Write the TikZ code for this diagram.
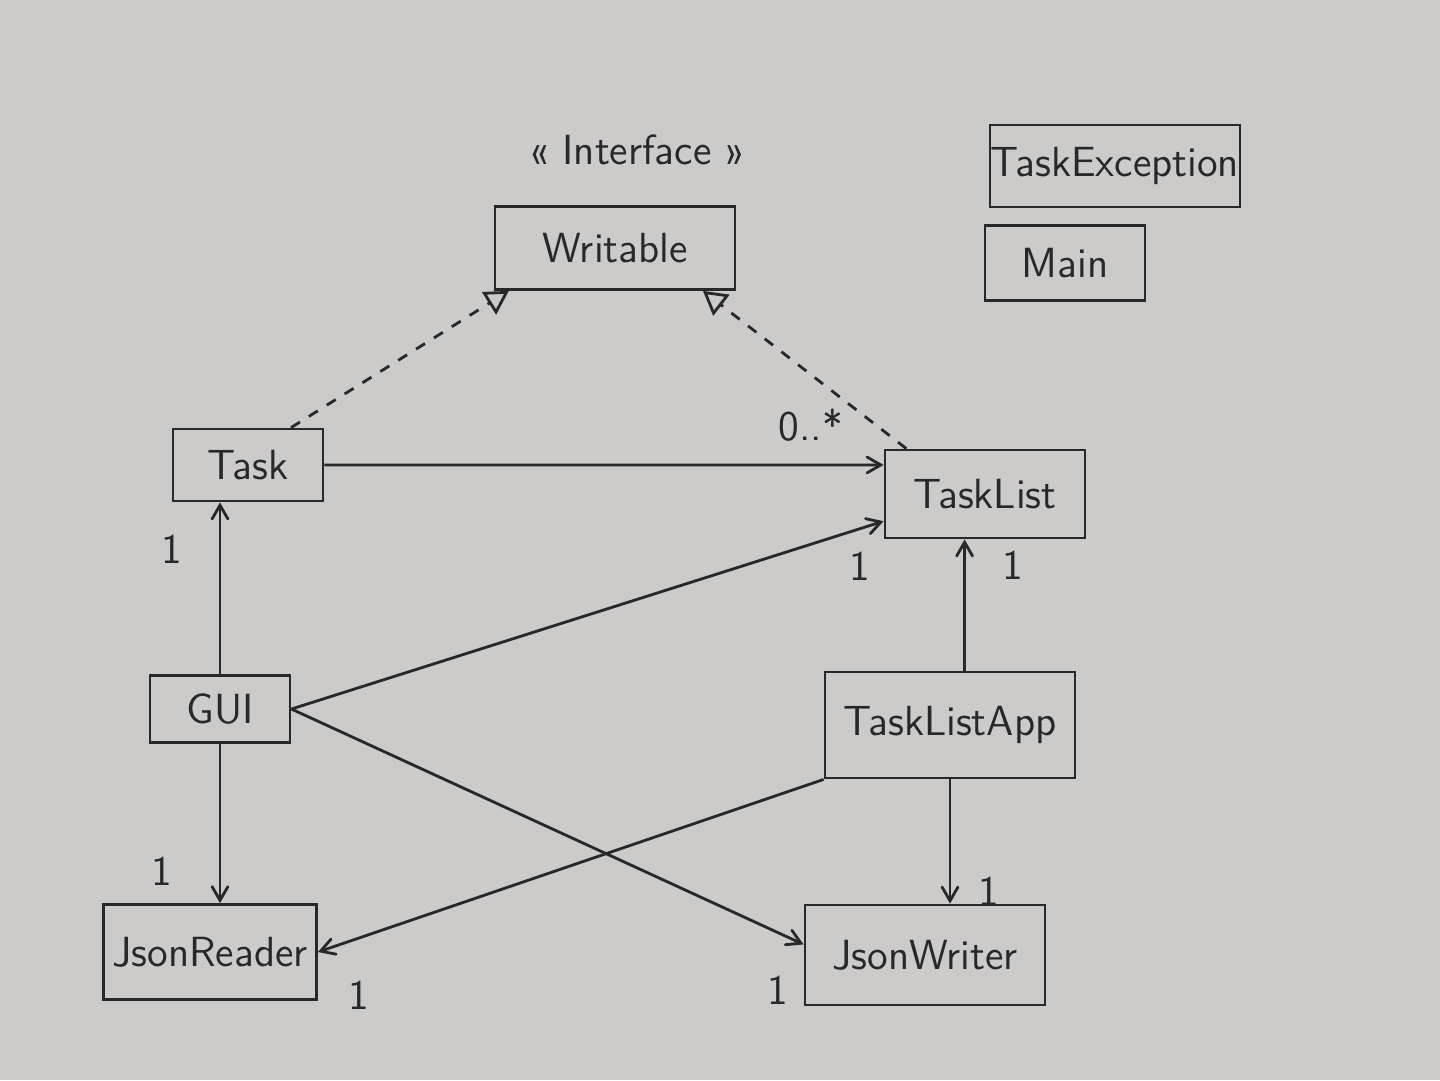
\documentclass[tikz,border=0pt]{standalone}
\usepackage{tikz}
\usetikzlibrary{arrows}
\definecolor{paper}{RGB}{205,203,202}
\definecolor{pencil}{RGB}{40,40,40}

\begin{document}
\begin{tikzpicture}[->,>=angle 60,x=0.1mm,y=-0.1mm,thick,pencil,
  class node/.style={rectangle,draw=pencil,thick,font=\sffamily\large,text=pencil,inner sep=0pt},
  mult/.style={font=\sffamily\large,text=pencil}]

  \fill[paper] (0,0) rectangle (1440,1080);

  \node (iface) at (637,150) [font=\sffamily\large,text=pencil] {« Interface »};
  \node[class node,minimum width=24mm,minimum height=8.3mm] (writable) at (615,248) {Writable};
  \node[class node,minimum width=25mm,minimum height=8.2mm] (taskexc) at (1115,166) {TaskException};
  \node[class node,minimum width=16mm,minimum height=7.5mm] (main) at (1065,263) {Main};
  \node[class node,minimum width=15mm,minimum height=7.2mm] (task) at (248,465) {Task};
  \node[class node,minimum width=20mm,minimum height=8.8mm] (tasklist) at (985,494) {TaskList};
  \node[class node,minimum width=14mm,minimum height=6.7mm] (gui) at (220,709) {GUI};
  \node[class node,minimum width=25mm,minimum height=10.6mm] (app) at (950,725) {TaskListApp};
  \node[class node,minimum width=21.3mm,minimum height=9.5mm] (reader) at (210,952) {JsonReader};
  \node[class node,minimum width=24mm,minimum height=10mm] (writer) at (925,955) {JsonWriter};

  % realizations of the interface
  \path[dashed,-open triangle 60]
    (task.41) edge (writable.202)
    (tasklist.150) edge (writable.334);

  % associations
  \path
    (task.east) edge node[mult,pos=0.87,above=1mm] (m1) {0..*} (tasklist.164)
    (gui.east) edge node[mult,pos=0.96,below=1mm] (m2) {1} (tasklist.195)
    (gui.north) edge node[mult,pos=0.73,left=2.5mm] (m3) {1} (gui.north |- task.south)
    (app.75) edge node[mult,pos=0.8,right=2.5mm] (m4) {1} (app.75 |- tasklist.south)
    (gui.south) edge node[mult,pos=0.8,left=3.5mm] (m5) {1} (gui.south |- reader.north)
    (gui.east) edge node[mult,pos=0.95,below=3mm] (m6) {1} (writer.175)
    (app.south west) edge node[mult,pos=0.92,below=3mm] (m7) {1} (reader.east)
    (app.south) edge node[mult,pos=0.9,right=1.5mm] (m8) {1} (app.south |- writer.north);
\end{tikzpicture}
\end{document}
